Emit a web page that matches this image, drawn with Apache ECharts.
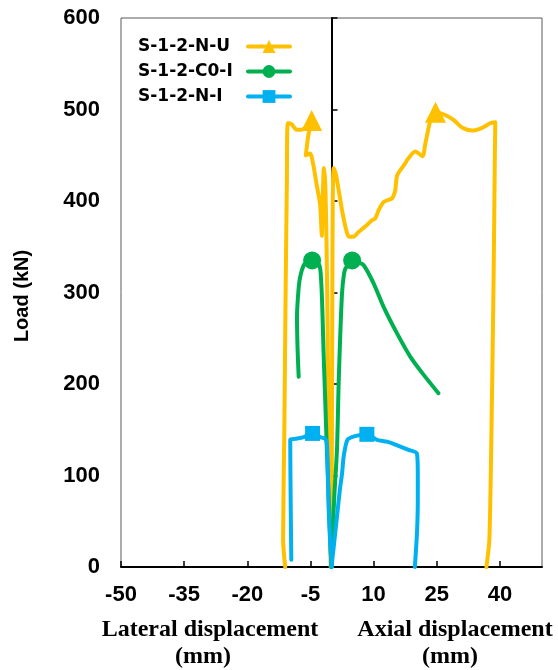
<!DOCTYPE html>
<html>
<head>
<meta charset="utf-8">
<script src="https://cdn.jsdelivr.net/npm/echarts@6/dist/echarts.min.js"></script>
<style>
html,body{margin:0;padding:0;background:#fff;}
#chart{width:558px;height:670px;}
</style>
</head>
<body>
<div id="chart"></div>
<script>
// Series names
const seriesNames = ['S-1-2-N-U', 'S-1-2-C0-I', 'S-1-2-N-I'];
const seriesColors = ['#FFC000', '#00B050', '#00B0F0'];
const seriesSymbols = ['triangle', 'circle', 'rect'];
const peakSymbolSizes = [21, 18, 15];

// X ticks (displacement, mm) and Y ticks (load, kN)
const xTicks = [-50, -35, -20, -5, 10, 25, 40];
const yTicks = [0, 100, 200, 300, 400, 500, 600];

// S-1-2-N-U : [displacement (mm), load (kN)]
const NU_lateral = [[-0.2,0],[-0.6,100],[-0.9,250],[-1.2,360],[-1.5,420],[-1.8,436],[-2.1,400],[-2.3,362],[-2.7,396],[-3.5,417],[-4.3,439],[-5.1,452],[-6.1,450],[-5.5,472],[-4.7,488],[-7.1,478],[-8.3,478],[-9.5,484],[-10.4,485],[-10.6,420],[-10.9,300],[-11.2,150],[-11.5,30],[-11.0,0]];
const NU_axial = [[0,0],[0.1,150],[0.2,300],[0.3,400],[0.5,436],[1.0,430],[1.7,412],[2.5,390],[3.3,372],[4.1,361],[5.25,361],[6.4,366],[8.0,372],[9.6,379],[10.4,381],[11.2,390],[12.4,399],[14.4,403],[15.15,412],[15.6,428],[17.5,441],[18.0,445],[19.9,454],[21.6,449],[22.3,463],[23.5,488],[24.7,497],[27.0,494],[28.9,489],[31.1,480],[33.4,477],[35.8,480],[37.7,485],[38.9,486],[38.8,450],[38.5,314],[38.0,150],[37.5,30],[36.8,0]];

// S-1-2-C0-I
const C0_lateral = [[0,0],[-0.3,30],[-0.7,80],[-1.1,128],[-1.5,183],[-1.9,237],[-2.25,292],[-2.65,325],[-3.3,333],[-4.6,335],[-5.9,333],[-6.6,330],[-7.4,318],[-7.8,305],[-8.2,273],[-8.05,237],[-7.8,208]];
const C0_axial = [[0,0],[0.3,40],[0.7,80],[1.3,128],[1.7,201],[2.1,256],[2.5,299],[2.9,318],[3.3,326],[4.9,335],[6.3,333],[7.6,330],[10.0,310],[12.4,284],[15.6,255],[18.7,230],[21.9,210],[25.4,190]];

// S-1-2-N-I
const NI_lateral = [[0,0],[-0.3,25],[-0.7,66],[-0.9,110],[-1.1,135],[-1.5,140],[-2.7,142],[-4.5,146],[-6.6,142],[-8.6,140],[-9.8,139],[-9.75,100],[-9.65,50],[-9.55,8]];
const NI_axial = [[0,0],[0.6,25],[1.3,55],[2.0,85],[2.5,102],[2.9,121],[3.8,139],[5.6,143],[8.4,145],[10.8,139],[13.2,137],[15.6,133],[18.3,128],[20.3,124],[20.5,100],[20.5,73],[20.3,37],[19.8,0]];

const branches = [
  [NU_lateral, NU_axial],
  [C0_lateral, C0_axial],
  [NI_lateral, NI_axial]
];

function withPeak(points, size) {
  let idx = 0;
  points.forEach((p, i) => { if (p[1] > points[idx][1]) idx = i; });
  return points.map((p, i) => i === idx ? { value: p, symbolSize: size } : p);
}

const series = [];
branches.forEach((pair, k) => {
  pair.forEach(points => {
    series.push({
      name: seriesNames[k],
      type: 'line',
      data: withPeak(points, peakSymbolSizes[k]),
      symbol: seriesSymbols[k],
      symbolSize: 0,
      showSymbol: true,
      smooth: 0.25,
      color: seriesColors[k],
      lineStyle: { width: 4, color: seriesColors[k], cap: 'round', join: 'round' },
      itemStyle: { color: seriesColors[k] },
      xAxisIndex: 0,
      yAxisIndex: 0,
      z: 3 + k
    });
  });
});

const chart = echarts.init(document.getElementById('chart'), null, { renderer: 'canvas' });
const labelFont = { fontFamily: 'Liberation Sans, Arial, sans-serif', fontWeight: 'bold', fontSize: 22, color: '#000' };
chart.setOption({
  animation: false,
  backgroundColor: '#fff',
  grid: { left: 121, right: 16, top: 18, bottom: 103, show: true, borderColor: '#595959', borderWidth: 1, backgroundColor: 'transparent' },
  legend: {
    data: seriesNames,
    orient: 'vertical',
    align: 'right',
    left: 133,
    top: 33,
    itemWidth: 42,
    itemHeight: 16,
    itemGap: 8,
    lineStyle: { width: 4 },
    formatter: '{a|{name}}',
    textStyle: {
      rich: { a: { fontFamily: 'DejaVu Sans, sans-serif', fontWeight: 'bold', fontSize: 17, color: '#000', width: 105, align: 'left', lineHeight: 18 } }
    }
  },
  xAxis: {
    type: 'value',
    min: xTicks[0],
    max: 50,
    interval: 15,
    axisLine: { show: true, onZero: false, lineStyle: { color: '#000', width: 2 } },
    axisTick: { show: true, inside: true, length: 6, lineStyle: { color: '#000', width: 1.5 } },
    axisLabel: Object.assign({ margin: 17, showMaxLabel: false }, labelFont),
    splitLine: { show: false }
  },
  yAxis: [
    {
      type: 'value',
      min: yTicks[0],
      max: yTicks[yTicks.length - 1],
      interval: 100,
      position: 'left',
      axisLine: { show: false, onZero: false },
      axisTick: { show: false },
      axisLabel: Object.assign({ margin: 21 }, labelFont),
      splitLine: { show: false }
    },
    {
      type: 'value',
      min: yTicks[0],
      max: yTicks[yTicks.length - 1],
      interval: 100,
      position: 'left',
      axisLine: { show: true, onZero: true, lineStyle: { color: '#000', width: 2 } },
      axisTick: { show: true, inside: true, length: 6, lineStyle: { color: '#000', width: 1.5 } },
      axisLabel: { show: false },
      splitLine: { show: false }
    }
  ],
  graphic: [
    { type: 'text', x: 22, y: 296, rotation: Math.PI / 2, style: { text: 'Load (kN)', font: 'bold 20px "Liberation Sans", Arial, sans-serif', fill: '#000', align: 'center', verticalAlign: 'middle' } },
    { type: 'text', x: 210, y: 630, style: { text: 'Lateral displacement', font: 'bold 24px "Liberation Serif", serif', fill: '#000', align: 'center', verticalAlign: 'middle' } },
    { type: 'text', x: 203, y: 657, style: { text: '(mm)', font: 'bold 24px "Liberation Serif", serif', fill: '#000', align: 'center', verticalAlign: 'middle' } },
    { type: 'text', x: 455, y: 630, style: { text: 'Axial displacement', font: 'bold 24px "Liberation Serif", serif', fill: '#000', align: 'center', verticalAlign: 'middle' } },
    { type: 'text', x: 450, y: 657, style: { text: '(mm)', font: 'bold 24px "Liberation Serif", serif', fill: '#000', align: 'center', verticalAlign: 'middle' } }
  ],
  series: series
});
</script>
</body>
</html>
